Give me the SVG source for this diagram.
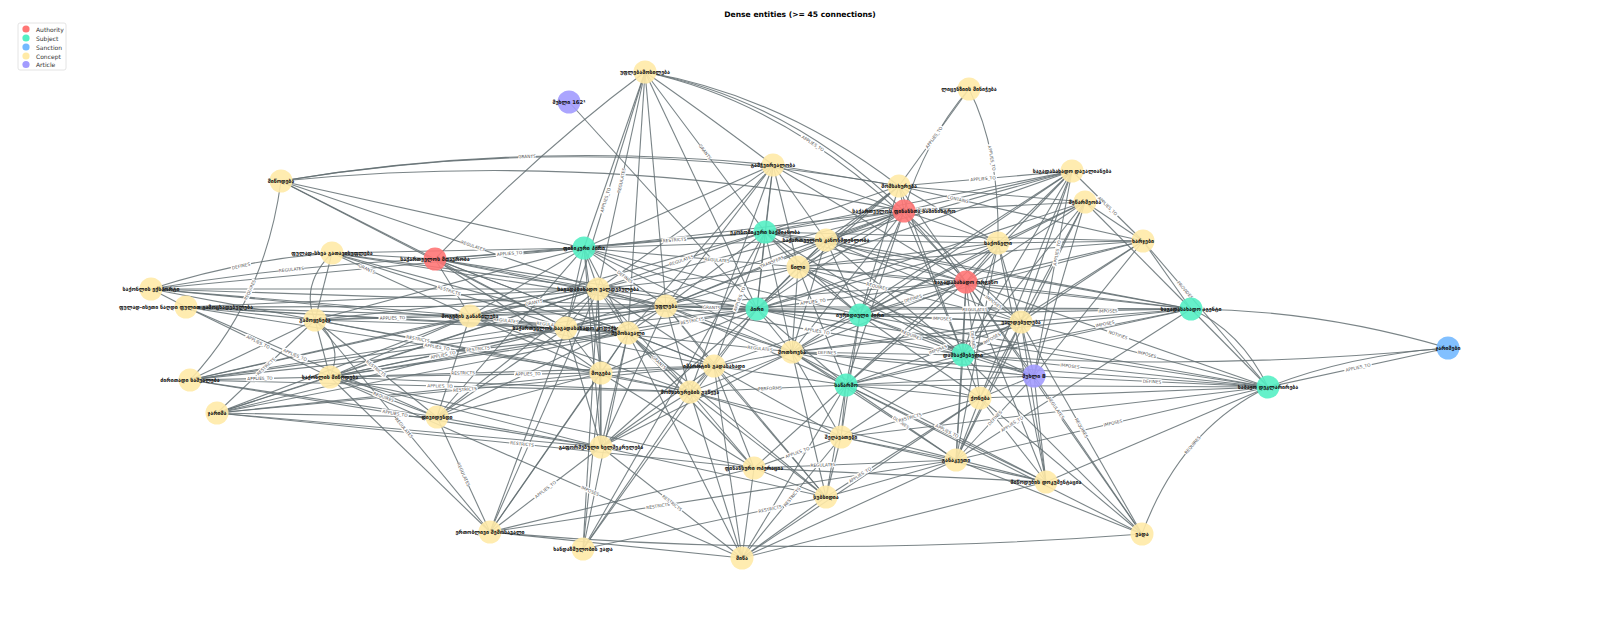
<svg xmlns="http://www.w3.org/2000/svg" width="1600" height="617" viewBox="0 0 1600 617">
<style>
#edges path{fill:none;stroke:#636e72;stroke-width:1.1;stroke-opacity:.85}
.el rect{fill:#fff;stroke:none}
.el text{font-family:"DejaVu Sans","Liberation Sans",sans-serif;font-size:4.3px;fill:#555;text-anchor:middle;dominant-baseline:central}
.nd circle{r:11.5px;fill-opacity:.9;stroke:none}
.nd text{font-family:"DejaVu Sans","Noto Sans",sans-serif;font-size:5.3px;font-weight:bold;fill:#111;text-anchor:middle;dominant-baseline:central}
.au{fill:#ff7675}.su{fill:#55efc4}.sa{fill:#74b9ff}.co{fill:#ffeaa7}.ar{fill:#a29bfe}
.lg text{font-family:"DejaVu Sans","Liberation Sans",sans-serif;font-size:6px;fill:#333;dominant-baseline:central}
</style>
<rect width="1600" height="617" fill="#fff"/>
<text x="800" y="14" font-family="DejaVu Sans, Liberation Sans, sans-serif" font-size="7.6" font-weight="bold" text-anchor="middle" dominant-baseline="central" fill="#000">Dense entities (&gt;= 45 connections)</text>
<g class="lg" id="legend">
<rect x="18" y="23" width="48" height="47" rx="2" fill="#fff" stroke="#ddd" stroke-width=".8"/>
<circle cx="26" cy="29" r="3.6" class="au"/><text x="36" y="29">Authority</text>
<circle cx="26" cy="38" r="3.6" class="su"/><text x="36" y="38">Subject</text>
<circle cx="26" cy="47" r="3.6" class="sa"/><text x="36" y="47">Sanction</text>
<circle cx="26" cy="56" r="3.6" class="co"/><text x="36" y="56">Concept</text>
<circle cx="26" cy="64.5" r="3.6" class="ar"/><text x="36" y="64.5">Article</text>
</g>
<g id="edges">
<path d="M645 72L598 289"/><path d="M645 72L566 328"/><path d="M645 72L765 232"/><path d="M645 72L628 333"/><path d="M645 72L757 309"/><path d="M645 72L584 248"/><path d="M645 72L666 306"/>
<path d="M645 72Q700 110 773 165"/><path d="M645 72Q820 110 966 282"/><path d="M645 72Q790 100 904 211"/><path d="M645 72Q780 95 899 186"/><path d="M645 72Q540 150 435 259"/>
<path d="M569 102L757 309"/>
<path d="M969 89L899 186"/><path d="M969 89Q925 140 904 211"/><path d="M969 89Q1000 150 998 243"/>
<path d="M281 181Q527 140 773 165"/><path d="M281 181Q590 130 899 186"/><path d="M281 181Q600 150 904 211"/><path d="M281 181Q265 300 190 380"/>
<path d="M281 181L584 248"/><path d="M281 181L598 289"/><path d="M281 181L435 259"/><path d="M281 181L566 328"/>
<path d="M773 165L899 186"/><path d="M773 165L904 211"/><path d="M773 165L765 232"/><path d="M773 165L598 289"/><path d="M773 165L584 248"/><path d="M773 165L666 306"/><path d="M773 165L628 333"/><path d="M773 165L757 309"/><path d="M773 165L690 392"/><path d="M773 165L966 282"/><path d="M773 165L798 267"/><path d="M773 165L826 240"/>
<path d="M899 186L904 211"/><path d="M899 186L1072 171"/><path d="M899 186L765 232"/><path d="M899 186L966 282"/><path d="M899 186L998 243"/><path d="M899 186L826 240"/><path d="M899 186L860 315"/><path d="M899 186L798 267"/><path d="M899 186L963 355"/><path d="M899 186L1143 241"/><path d="M899 186L1085 202"/><path d="M899 186L757 309"/>
<path d="M1072 171L1143 241"/><path d="M1072 171L966 282"/><path d="M1072 171L860 315"/><path d="M1072 171L826 240"/><path d="M1072 171L963 355"/><path d="M1072 171L1021 322"/><path d="M1072 171L1034 376"/><path d="M1072 171L998 243"/><path d="M1072 171L765 232"/><path d="M1072 171L798 267"/><path d="M1072 171L792 352"/><path d="M1072 171L904 211"/><path d="M1072 171L980 398"/>
<path d="M1085 202L1143 241"/><path d="M1085 202L966 282"/><path d="M1085 202L1021 322"/><path d="M1085 202L904 211"/><path d="M1085 202L963 355"/><path d="M1085 202L956 460"/><path d="M1085 202L860 315"/><path d="M1085 202L998 243"/><path d="M1085 202L757 309"/><path d="M1085 202L1034 376"/><path d="M1085 202L1191 309"/>
<path d="M904 211L584 248"/><path d="M904 211L765 232"/><path d="M904 211L826 240"/><path d="M904 211L666 306"/><path d="M904 211L757 309"/><path d="M904 211L860 315"/><path d="M904 211L798 267"/><path d="M904 211L966 282"/><path d="M904 211L598 289"/><path d="M904 211L566 328"/><path d="M904 211L792 352"/><path d="M904 211L998 243"/><path d="M904 211L1021 322"/><path d="M904 211L963 355"/><path d="M904 211L846 385"/>
<path d="M1143 241L1191 309"/><path d="M1143 241L1268 387"/><path d="M1143 241L966 282"/><path d="M1143 241L998 243"/><path d="M1143 241L1021 322"/><path d="M1143 241L798 267"/><path d="M1143 241L765 232"/><path d="M1143 241L1034 376"/><path d="M1143 241L963 355"/><path d="M1143 241L860 315"/>
<path d="M998 243L966 282"/><path d="M998 243L860 315"/><path d="M998 243L757 309"/><path d="M998 243L1021 322"/><path d="M998 243L963 355"/><path d="M998 243L956 460"/><path d="M998 243L1046 482"/><path d="M998 243L846 385"/><path d="M998 243L798 267"/><path d="M998 243L826 240"/>
<path d="M1191 309Q1320 310 1448 348"/><path d="M1191 309L1268 387"/><path d="M1191 309Q1240 330 1268 387"/>
<path d="M966 282L1191 309"/><path d="M1021 322L1191 309"/><path d="M963 355L1191 309"/><path d="M860 315L1191 309"/><path d="M757 309L1191 309"/><path d="M792 352L1191 309"/><path d="M846 385L1191 309"/><path d="M765 232L1191 309"/><path d="M826 240L1191 309"/><path d="M956 460L1191 309"/><path d="M798 267L1191 309"/><path d="M666 306L1191 309"/>
<path d="M1268 387L1448 348"/><path d="M1268 387Q1350 355 1448 348"/>
<path d="M966 282L1268 387"/><path d="M1021 322L1268 387"/><path d="M963 355L1268 387"/><path d="M1034 376L1268 387"/><path d="M846 385L1268 387"/><path d="M860 315L1268 387"/><path d="M792 352L1268 387"/><path d="M841 437L1268 387"/><path d="M980 398L1268 387"/><path d="M956 460L1268 387"/><path d="M1142 534Q1180 430 1268 387"/><path d="M757 309L1268 387"/><path d="M1046 482L1268 387"/>
<path d="M963 355Q1200 372 1448 348"/>
<path d="M966 282L1142 534"/><path d="M1021 322L1142 534"/><path d="M1034 376L1142 534"/><path d="M963 355L1142 534"/><path d="M490 532Q800 560 1142 534"/><path d="M956 460L1142 534"/><path d="M980 398L1142 534"/><path d="M846 385L1142 534"/>
<path d="M966 282L1034 376"/><path d="M1034 376L963 355"/><path d="M1034 376L1021 322"/><path d="M1034 376L956 460"/><path d="M1034 376L980 398"/><path d="M1034 376L846 385"/><path d="M1034 376L860 315"/><path d="M1034 376L792 352"/><path d="M1034 376L1046 482"/><path d="M1034 376L798 267"/>
<path d="M1021 322L1046 482"/><path d="M980 398L1046 482"/><path d="M846 385L1046 482"/><path d="M841 437L1046 482"/><path d="M742 558L1046 482"/><path d="M690 392L1046 482"/><path d="M966 282L1046 482"/><path d="M792 352L1046 482"/><path d="M754 468L1046 482"/>
<path d="M980 398L956 460"/><path d="M846 385L956 460"/><path d="M792 352L956 460"/><path d="M1021 322L956 460"/><path d="M963 355L956 460"/><path d="M966 282L956 460"/><path d="M841 437L956 460"/><path d="M826 497L956 460"/><path d="M742 558L956 460"/><path d="M754 468L956 460"/><path d="M490 532L956 460"/>
<path d="M754 468L742 558"/><path d="M826 497L742 558"/><path d="M841 437L742 558"/><path d="M690 392L742 558"/><path d="M628 333L742 558"/><path d="M601 447L742 558"/><path d="M980 398L742 558"/><path d="M714 366L742 558"/><path d="M330 377L742 558"/><path d="M846 385L742 558"/><path d="M490 532L742 558"/>
<path d="M754 468L826 497"/><path d="M690 392L826 497"/><path d="M846 385L826 497"/><path d="M714 366L826 497"/><path d="M792 352L826 497"/><path d="M841 437L826 497"/><path d="M666 306L826 497"/><path d="M628 333L826 497"/><path d="M980 398L826 497"/><path d="M583 549L826 497"/><path d="M601 447L826 497"/>
<path d="M601 373L583 549"/><path d="M714 366L583 549"/><path d="M690 392L583 549"/><path d="M628 333L583 549"/><path d="M598 289L583 549"/><path d="M765 232L583 549"/>
<path d="M437 417L490 532"/><path d="M330 377L490 532"/><path d="M315 320L490 532"/><path d="M598 289L490 532"/><path d="M601 447L490 532"/><path d="M628 333L490 532"/><path d="M566 328L490 532"/><path d="M601 373L490 532"/><path d="M754 468L490 532"/>
<path d="M566 328L601 447"/><path d="M628 333L601 447"/><path d="M601 373L601 447"/><path d="M437 417L601 447"/><path d="M598 289L601 447"/><path d="M666 306L601 447"/><path d="M217 413L601 447"/><path d="M330 377L601 447"/><path d="M757 309L601 447"/><path d="M690 392L601 447"/><path d="M714 366L601 447"/><path d="M792 352L601 447"/><path d="M584 248L601 447"/><path d="M190 380L601 447"/>
<path d="M330 377L437 417"/><path d="M566 328L437 417"/><path d="M470 316L437 417"/><path d="M598 289L437 417"/><path d="M601 373L437 417"/><path d="M584 248L437 417"/><path d="M666 306L437 417"/><path d="M217 413L437 417"/><path d="M190 380L437 417"/><path d="M315 320L437 417"/>
<path d="M217 413L315 320"/><path d="M217 413L330 377"/><path d="M217 413L598 289"/><path d="M217 413L566 328"/><path d="M217 413L470 316"/><path d="M217 413L601 373"/><path d="M217 413L628 333"/><path d="M217 413L754 468"/><path d="M217 413L714 366"/>
<path d="M190 380L315 320"/><path d="M190 380L470 316"/><path d="M190 380L566 328"/><path d="M190 380L598 289"/><path d="M190 380L330 377"/><path d="M190 380L666 306"/><path d="M190 380L690 392"/><path d="M190 380L628 333"/>
<path d="M330 377L315 320"/><path d="M330 377Q345 345 315 320"/><path d="M330 377L470 316"/><path d="M330 377L566 328"/><path d="M330 377L598 289"/><path d="M330 377L628 333"/><path d="M330 377L666 306"/><path d="M330 377L601 373"/><path d="M330 377L714 366"/><path d="M330 377L754 468"/><path d="M330 377L690 392"/><path d="M330 377L757 309"/>
<path d="M315 320L332 253"/><path d="M315 320Q300 285 332 253"/><path d="M315 320L470 316"/><path d="M315 320L566 328"/><path d="M315 320L598 289"/><path d="M315 320L584 248"/><path d="M315 320L666 306"/><path d="M315 320L186 307"/><path d="M315 320L601 373"/><path d="M315 320L690 392"/>
<path d="M186 307L330 377"/><path d="M186 307L470 316"/><path d="M186 307L566 328"/><path d="M186 307L598 289"/><path d="M186 307L666 306"/><path d="M186 307L628 333"/><path d="M186 307L437 417"/><path d="M186 307L601 373"/>
<path d="M151 289Q240 260 332 253"/><path d="M151 289Q290 265 435 259"/><path d="M151 289L598 289"/><path d="M151 289L566 328"/><path d="M151 289L666 306"/><path d="M151 289L470 316"/><path d="M151 289L584 248"/><path d="M151 289L315 320"/><path d="M151 289L186 307"/>
<path d="M332 253L435 259"/><path d="M332 253L584 248"/><path d="M332 253L598 289"/><path d="M332 253L470 316"/><path d="M332 253L566 328"/><path d="M332 253L666 306"/><path d="M332 253L628 333"/>
<path d="M435 259L584 248"/><path d="M435 259L598 289"/><path d="M435 259L566 328"/><path d="M435 259L470 316"/><path d="M435 259L601 373"/><path d="M435 259L666 306"/><path d="M435 259L628 333"/><path d="M435 259L765 232"/><path d="M435 259L757 309"/><path d="M435 259L714 366"/>
<path d="M470 316L566 328"/><path d="M470 316L598 289"/><path d="M470 316L584 248"/><path d="M470 316L666 306"/><path d="M470 316L628 333"/><path d="M470 316L601 373"/><path d="M470 316L757 309"/><path d="M470 316L690 392"/><path d="M470 316L714 366"/><path d="M470 316L765 232"/>
<path d="M584 248L598 289"/><path d="M584 248L666 306"/><path d="M584 248L566 328"/><path d="M584 248L628 333"/><path d="M584 248L765 232"/><path d="M584 248L757 309"/><path d="M584 248L798 267"/><path d="M584 248L792 352"/><path d="M584 248L601 373"/><path d="M584 248L826 240"/><path d="M584 248L860 315"/>
<path d="M598 289L666 306"/><path d="M598 289L566 328"/><path d="M598 289L628 333"/><path d="M598 289L757 309"/><path d="M598 289L765 232"/><path d="M598 289L792 352"/><path d="M598 289L798 267"/><path d="M598 289L601 373"/><path d="M598 289L714 366"/><path d="M598 289L690 392"/>
<path d="M666 306L757 309"/><path d="M666 306L765 232"/><path d="M666 306L628 333"/><path d="M666 306L566 328"/><path d="M666 306L792 352"/><path d="M666 306L798 267"/><path d="M666 306L714 366"/><path d="M666 306L690 392"/><path d="M666 306L860 315"/><path d="M666 306L846 385"/><path d="M666 306L826 240"/><path d="M666 306L966 282"/><path d="M666 306L1021 322"/><path d="M666 306L963 355"/>
<path d="M757 309L765 232"/><path d="M757 309L798 267"/><path d="M757 309L860 315"/><path d="M757 309L792 352"/><path d="M757 309L714 366"/><path d="M757 309L690 392"/><path d="M757 309L628 333"/><path d="M757 309L566 328"/><path d="M757 309L601 373"/><path d="M757 309L846 385"/><path d="M757 309L826 240"/><path d="M757 309L966 282"/><path d="M757 309L963 355"/>
<path d="M765 232L826 240"/><path d="M765 232L798 267"/><path d="M765 232L860 315"/><path d="M765 232L966 282"/><path d="M765 232L792 352"/><path d="M765 232L714 366"/><path d="M765 232L963 355"/>
<path d="M826 240L798 267"/><path d="M826 240L860 315"/><path d="M826 240L966 282"/><path d="M826 240L963 355"/><path d="M826 240L1021 322"/><path d="M826 240L792 352"/>
<path d="M798 267L860 315"/><path d="M798 267L966 282"/><path d="M798 267L792 352"/><path d="M798 267L1021 322"/><path d="M798 267L963 355"/><path d="M798 267L846 385"/>
<path d="M966 282L860 315"/><path d="M966 282L1021 322"/><path d="M966 282L963 355"/><path d="M966 282L792 352"/><path d="M966 282L846 385"/><path d="M966 282L980 398"/>
<path d="M860 315L792 352"/><path d="M860 315L963 355"/><path d="M860 315L846 385"/><path d="M860 315L1021 322"/><path d="M860 315L980 398"/><path d="M860 315L841 437"/><path d="M860 315L714 366"/>
<path d="M1021 322L963 355"/><path d="M1021 322L846 385"/><path d="M1021 322L980 398"/><path d="M1021 322L792 352"/>
<path d="M792 352L846 385"/><path d="M792 352L714 366"/><path d="M792 352L690 392"/><path d="M792 352L841 437"/><path d="M792 352L963 355"/><path d="M792 352L980 398"/><path d="M566 328L792 352"/>
<path d="M963 355L846 385"/><path d="M963 355L980 398"/><path d="M963 355L841 437"/>
<path d="M714 366L690 392"/><path d="M714 366L846 385"/><path d="M714 366L841 437"/><path d="M714 366L754 468"/><path d="M714 366L628 333"/><path d="M714 366L601 373"/>
<path d="M628 333L601 373"/><path d="M628 333L690 392"/><path d="M628 333L566 328"/><path d="M628 333L754 468"/>
<path d="M566 328L601 373"/>
<path d="M601 373L690 392"/><path d="M601 373L754 468"/>
<path d="M690 392L754 468"/><path d="M690 392L841 437"/><path d="M690 392L846 385"/>
<path d="M846 385L841 437"/><path d="M846 385L980 398"/><path d="M846 385L754 468"/>
<path d="M841 437L980 398"/><path d="M841 437L754 468"/>
</g>
<g id="edge-labels" class="el">
<g transform="translate(621.5 180.5) rotate(-77.8)"><rect x="-12.75" y="-2.8" width="25.5" height="5.6" rx="1.6"/><text>REGULATES</text></g>
<g transform="translate(605.5 200) rotate(-72.9)"><rect x="-14" y="-2.8" width="28" height="5.6" rx="1.6"/><text>APPLIES_TO</text></g>
<g transform="translate(705 152) rotate(53.1)"><rect x="-9" y="-2.8" width="18" height="5.6" rx="1.6"/><text>GRANTS</text></g>
<g transform="translate(812.7 143.5) rotate(33)"><rect x="-14" y="-2.8" width="28" height="5.6" rx="1.6"/><text>APPLIES_TO</text></g>
<g transform="translate(527 156.5) rotate(-1.9)"><rect x="-9" y="-2.8" width="18" height="5.6" rx="1.6"/><text>GRANTS</text></g>
<g transform="translate(473 246) rotate(18.8)"><rect x="-12.75" y="-2.8" width="25.5" height="5.6" rx="1.6"/><text>REGULATES</text></g>
<g transform="translate(367 269) rotate(24.5)"><rect x="-9" y="-2.8" width="18" height="5.6" rx="1.6"/><text>GRANTS</text></g>
<g transform="translate(241 266) rotate(-12)"><rect x="-10.25" y="-2.8" width="20.5" height="5.6" rx="1.6"/><text>DEFINES</text></g>
<g transform="translate(291.5 269.5) rotate(-6)"><rect x="-12.75" y="-2.8" width="25.5" height="5.6" rx="1.6"/><text>REGULATES</text></g>
<g transform="translate(250 290) rotate(-65.4)"><rect x="-11.5" y="-2.8" width="23" height="5.6" rx="1.6"/><text>REQUIRES</text></g>
<g transform="translate(449 290.5) rotate(17.8)"><rect x="-12.75" y="-2.8" width="25.5" height="5.6" rx="1.6"/><text>RESTRICTS</text></g>
<g transform="translate(392.5 318) rotate(-1.5)"><rect x="-14" y="-2.8" width="28" height="5.6" rx="1.6"/><text>APPLIES_TO</text></g>
<g transform="translate(258 342) rotate(25.9)"><rect x="-14" y="-2.8" width="28" height="5.6" rx="1.6"/><text>APPLIES_TO</text></g>
<g transform="translate(295 355) rotate(23.7)"><rect x="-14" y="-2.8" width="28" height="5.6" rx="1.6"/><text>APPLIES_TO</text></g>
<g transform="translate(266 366.5) rotate(-43.5)"><rect x="-12.75" y="-2.8" width="25.5" height="5.6" rx="1.6"/><text>RESTRICTS</text></g>
<g transform="translate(260 378.5) rotate(-1.2)"><rect x="-14" y="-2.8" width="28" height="5.6" rx="1.6"/><text>APPLIES_TO</text></g>
<g transform="translate(376 368.5) rotate(38.5)"><rect x="-12.75" y="-2.8" width="25.5" height="5.6" rx="1.6"/><text>RESTRICTS</text></g>
<g transform="translate(463 373) rotate(-1.6)"><rect x="-12.75" y="-2.8" width="25.5" height="5.6" rx="1.6"/><text>RESTRICTS</text></g>
<g transform="translate(440 386) rotate(1.4)"><rect x="-14" y="-2.8" width="28" height="5.6" rx="1.6"/><text>APPLIES_TO</text></g>
<g transform="translate(383.5 397) rotate(20.5)"><rect x="-11.5" y="-2.8" width="23" height="5.6" rx="1.6"/><text>REQUIRES</text></g>
<g transform="translate(395 413.4) rotate(9.3)"><rect x="-14" y="-2.8" width="28" height="5.6" rx="1.6"/><text>APPLIES_TO</text></g>
<g transform="translate(404 428) rotate(50.5)"><rect x="-12.75" y="-2.8" width="25.5" height="5.6" rx="1.6"/><text>REGULATES</text></g>
<g transform="translate(463.5 474.5) rotate(65.3)"><rect x="-12.75" y="-2.8" width="25.5" height="5.6" rx="1.6"/><text>REGULATES</text></g>
<g transform="translate(522 444) rotate(5.8)"><rect x="-12.75" y="-2.8" width="25.5" height="5.6" rx="1.6"/><text>RESTRICTS</text></g>
<g transform="translate(545.5 489.5) rotate(-37.4)"><rect x="-14" y="-2.8" width="28" height="5.6" rx="1.6"/><text>APPLIES_TO</text></g>
<g transform="translate(590 491) rotate(23.7)"><rect x="-10.25" y="-2.8" width="20.5" height="5.6" rx="1.6"/><text>IMPOSES</text></g>
<g transform="translate(672 503) rotate(38)"><rect x="-12.75" y="-2.8" width="25.5" height="5.6" rx="1.6"/><text>RESTRICTS</text></g>
<g transform="translate(658 506) rotate(-8.8)"><rect x="-12.75" y="-2.8" width="25.5" height="5.6" rx="1.6"/><text>RESTRICTS</text></g>
<g transform="translate(792 497) rotate(-50.7)"><rect x="-12.75" y="-2.8" width="25.5" height="5.6" rx="1.6"/><text>RESTRICTS</text></g>
<g transform="translate(770 509) rotate(-12)"><rect x="-12.75" y="-2.8" width="25.5" height="5.6" rx="1.6"/><text>RESTRICTS</text></g>
<g transform="translate(797.5 452.5) rotate(-19.6)"><rect x="-14" y="-2.8" width="28" height="5.6" rx="1.6"/><text>APPLIES_TO</text></g>
<g transform="translate(823 465) rotate(-2.3)"><rect x="-12.75" y="-2.8" width="25.5" height="5.6" rx="1.6"/><text>REGULATES</text></g>
<g transform="translate(860 475) rotate(-32.7)"><rect x="-14" y="-2.8" width="28" height="5.6" rx="1.6"/><text>APPLIES_TO</text></g>
<g transform="translate(1012 424) rotate(-32.7)"><rect x="-14" y="-2.8" width="28" height="5.6" rx="1.6"/><text>APPLIES_TO</text></g>
<g transform="translate(995 418) rotate(-47)"><rect x="-10.25" y="-2.8" width="20.5" height="5.6" rx="1.6"/><text>DEFINES</text></g>
<g transform="translate(947 431) rotate(27)"><rect x="-14" y="-2.8" width="28" height="5.6" rx="1.6"/><text>APPLIES_TO</text></g>
<g transform="translate(901 422.5) rotate(34.3)"><rect x="-10.25" y="-2.8" width="20.5" height="5.6" rx="1.6"/><text>DEFINES</text></g>
<g transform="translate(1056 408) rotate(55.6)"><rect x="-12.75" y="-2.8" width="25.5" height="5.6" rx="1.6"/><text>REGULATES</text></g>
<g transform="translate(1081.5 428) rotate(60.3)"><rect x="-11.5" y="-2.8" width="23" height="5.6" rx="1.6"/><text>REQUIRES</text></g>
<g transform="translate(1113 423) rotate(-13.2)"><rect x="-10.25" y="-2.8" width="20.5" height="5.6" rx="1.6"/><text>IMPOSES</text></g>
<g transform="translate(1152 381.6) rotate(2.7)"><rect x="-10.25" y="-2.8" width="20.5" height="5.6" rx="1.6"/><text>DEFINES</text></g>
<g transform="translate(1147 354.4) rotate(14.7)"><rect x="-10.25" y="-2.8" width="20.5" height="5.6" rx="1.6"/><text>IMPOSES</text></g>
<g transform="translate(1118 335) rotate(19.2)"><rect x="-11.5" y="-2.8" width="23" height="5.6" rx="1.6"/><text>NOTIFIES</text></g>
<g transform="translate(1108 311) rotate(-1.4)"><rect x="-10.25" y="-2.8" width="20.5" height="5.6" rx="1.6"/><text>IMPOSES</text></g>
<g transform="translate(1105 324) rotate(-11.4)"><rect x="-10.25" y="-2.8" width="20.5" height="5.6" rx="1.6"/><text>IMPOSES</text></g>
<g transform="translate(1358 367.5) rotate(-12.2)"><rect x="-14" y="-2.8" width="28" height="5.6" rx="1.6"/><text>APPLIES_TO</text></g>
<g transform="translate(1192.5 445) rotate(-49.4)"><rect x="-11.5" y="-2.8" width="23" height="5.6" rx="1.6"/><text>REQUIRES</text></g>
<g transform="translate(1185 290) rotate(49.4)"><rect x="-11.5" y="-2.8" width="23" height="5.6" rx="1.6"/><text>PROVIDES</text></g>
<g transform="translate(1107.5 206) rotate(44.6)"><rect x="-14" y="-2.8" width="28" height="5.6" rx="1.6"/><text>APPLIES_TO</text></g>
<g transform="translate(958 199.3) rotate(12.7)"><rect x="-11.5" y="-2.8" width="23" height="5.6" rx="1.6"/><text>CONTAINS</text></g>
<g transform="translate(925 210) rotate(-2.8)"><rect x="-14" y="-2.8" width="28" height="5.6" rx="1.6"/><text>APPLIES_TO</text></g>
<g transform="translate(983 178.7) rotate(-5)"><rect x="-14" y="-2.8" width="28" height="5.6" rx="1.6"/><text>APPLIES_TO</text></g>
<g transform="translate(991.7 158) rotate(79.3)"><rect x="-14" y="-2.8" width="28" height="5.6" rx="1.6"/><text>APPLIES_TO</text></g>
<g transform="translate(934 137.5) rotate(-54.2)"><rect x="-14" y="-2.8" width="28" height="5.6" rx="1.6"/><text>APPLIES_TO</text></g>
<g transform="translate(1057 253) rotate(-79.5)"><rect x="-14" y="-2.8" width="28" height="5.6" rx="1.6"/><text>APPLIES_TO</text></g>
<g transform="translate(975 309) rotate(0)"><rect x="-12.75" y="-2.8" width="25.5" height="5.6" rx="1.6"/><text>REGULATES</text></g>
<g transform="translate(942 318.6) rotate(2.5)"><rect x="-10.25" y="-2.8" width="20.5" height="5.6" rx="1.6"/><text>IMPOSES</text></g>
<g transform="translate(973 340) rotate(83)"><rect x="-10.25" y="-2.8" width="20.5" height="5.6" rx="1.6"/><text>DEFINES</text></g>
<g transform="translate(993.5 302) rotate(36)"><rect x="-10.25" y="-2.8" width="20.5" height="5.6" rx="1.6"/><text>IMPOSES</text></g>
<g transform="translate(992 338.5) rotate(-29.6)"><rect x="-10.25" y="-2.8" width="20.5" height="5.6" rx="1.6"/><text>IMPOSES</text></g>
<g transform="translate(938 349.6) rotate(-21.6)"><rect x="-10.25" y="-2.8" width="20.5" height="5.6" rx="1.6"/><text>IMPOSES</text></g>
<g transform="translate(911.5 335) rotate(21.2)"><rect x="-11.5" y="-2.8" width="23" height="5.6" rx="1.6"/><text>REQUIRES</text></g>
<g transform="translate(913 298.5) rotate(-17.3)"><rect x="-10.25" y="-2.8" width="20.5" height="5.6" rx="1.6"/><text>DEFINES</text></g>
<g transform="translate(1070 366) rotate(6)"><rect x="-10.25" y="-2.8" width="20.5" height="5.6" rx="1.6"/><text>IMPOSES</text></g>
<g transform="translate(910 417.6) rotate(-15.7)"><rect x="-12.75" y="-2.8" width="25.5" height="5.6" rx="1.6"/><text>RESTRICTS</text></g>
<g transform="translate(772 262) rotate(-22.4)"><rect x="-12.75" y="-2.8" width="25.5" height="5.6" rx="1.6"/><text>TRANSFERS</text></g>
<g transform="translate(711.5 307.5) rotate(1.9)"><rect x="-9" y="-2.8" width="18" height="5.6" rx="1.6"/><text>GRANTS</text></g>
<g transform="translate(717 260) rotate(5)"><rect x="-12.75" y="-2.8" width="25.5" height="5.6" rx="1.6"/><text>REGULATES</text></g>
<g transform="translate(692 321) rotate(-10.5)"><rect x="-12.75" y="-2.8" width="25.5" height="5.6" rx="1.6"/><text>RESTRICTS</text></g>
<g transform="translate(760 348.6) rotate(6)"><rect x="-12.75" y="-2.8" width="25.5" height="5.6" rx="1.6"/><text>REGULATES</text></g>
<g transform="translate(813 301.8) rotate(-7.4)"><rect x="-14" y="-2.8" width="28" height="5.6" rx="1.6"/><text>APPLIES_TO</text></g>
<g transform="translate(877 286.5) rotate(13.9)"><rect x="-11.5" y="-2.8" width="23" height="5.6" rx="1.6"/><text>REQUIRES</text></g>
<g transform="translate(827 352.6) rotate(1)"><rect x="-10.25" y="-2.8" width="20.5" height="5.6" rx="1.6"/><text>DEFINES</text></g>
<g transform="translate(770 388.4) rotate(-2.6)"><rect x="-11.5" y="-2.8" width="23" height="5.6" rx="1.6"/><text>PERFORMS</text></g>
<g transform="translate(817 331) rotate(9.4)"><rect x="-14" y="-2.8" width="28" height="5.6" rx="1.6"/><text>APPLIES_TO</text></g>
<g transform="translate(739.5 299) rotate(-69)"><rect x="-14" y="-2.8" width="28" height="5.6" rx="1.6"/><text>APPLIES_TO</text></g>
<g transform="translate(681.5 260.5) rotate(-18.8)"><rect x="-12.75" y="-2.8" width="25.5" height="5.6" rx="1.6"/><text>REGULATES</text></g>
<g transform="translate(674.5 240) rotate(-5)"><rect x="-12.75" y="-2.8" width="25.5" height="5.6" rx="1.6"/><text>RESTRICTS</text></g>
<g transform="translate(625 277) rotate(36.5)"><rect x="-10.25" y="-2.8" width="20.5" height="5.6" rx="1.6"/><text>DEFINES</text></g>
<g transform="translate(509.5 253.5) rotate(-4.2)"><rect x="-14" y="-2.8" width="28" height="5.6" rx="1.6"/><text>APPLIES_TO</text></g>
<g transform="translate(534 302.5) rotate(-11.9)"><rect x="-9" y="-2.8" width="18" height="5.6" rx="1.6"/><text>GRANTS</text></g>
<g transform="translate(549 324.5) rotate(6.1)"><rect x="-12.75" y="-2.8" width="25.5" height="5.6" rx="1.6"/><text>REGULATES</text></g>
<g transform="translate(659 362.5) rotate(43.6)"><rect x="-9" y="-2.8" width="18" height="5.6" rx="1.6"/><text>GRANTS</text></g>
<g transform="translate(506 320.5) rotate(7.1)"><rect x="-12.75" y="-2.8" width="25.5" height="5.6" rx="1.6"/><text>REGULATES</text></g>
<g transform="translate(418 339) rotate(10.5)"><rect x="-12.75" y="-2.8" width="25.5" height="5.6" rx="1.6"/><text>RESTRICTS</text></g>
<g transform="translate(437 347) rotate(9)"><rect x="-14" y="-2.8" width="28" height="5.6" rx="1.6"/><text>APPLIES_TO</text></g>
<g transform="translate(443 355) rotate(-11.7)"><rect x="-14" y="-2.8" width="28" height="5.6" rx="1.6"/><text>APPLIES_TO</text></g>
<g transform="translate(478 349) rotate(-6.1)"><rect x="-12.75" y="-2.8" width="25.5" height="5.6" rx="1.6"/><text>RESTRICTS</text></g>
<g transform="translate(465 389.5) rotate(-5.4)"><rect x="-12.75" y="-2.8" width="25.5" height="5.6" rx="1.6"/><text>RESTRICTS</text></g>
<g transform="translate(528 374) rotate(-0.8)"><rect x="-14" y="-2.8" width="28" height="5.6" rx="1.6"/><text>APPLIES_TO</text></g>
</g>
<g id="nodes">
<g id="n1" class="nd"><circle cx="645" cy="72" class="co"/><text x="645" y="72">უფლებამოსილება</text></g>
<g id="n2" class="nd"><circle cx="569" cy="102" class="ar"/><text x="569" y="102">მუხლი 162¹</text></g>
<g id="n3" class="nd"><circle cx="969" cy="89" class="co"/><text x="969" y="89">ლიცენზიის მინიჭება</text></g>
<g id="n4" class="nd"><circle cx="281" cy="181" class="co"/><text x="281" y="181">მიწოდება</text></g>
<g id="n5" class="nd"><circle cx="773" cy="165" class="co"/><text x="773" y="165">გამჭვირვალობა</text></g>
<g id="n6" class="nd"><circle cx="899" cy="186" class="co"/><text x="899" y="186">მომსახურება</text></g>
<g id="n7" class="nd"><circle cx="1072" cy="171" class="co"/><text x="1072" y="171">საგადასახადო დავალიანება</text></g>
<g id="n8" class="nd"><circle cx="1085" cy="202" class="co"/><text x="1085" y="202">მეწარმეობა</text></g>
<g id="n9" class="nd"><circle cx="904" cy="211" class="au"/><text x="904" y="211">საქართველოს ფინანსთა სამინისტრო</text></g>
<g id="n10" class="nd"><circle cx="765" cy="232" class="su"/><text x="765" y="232">ეკონომიკური საქმიანობა</text></g>
<g id="n11" class="nd"><circle cx="826" cy="240" class="co"/><text x="826" y="240">საქართველოს კანონმდებლობა</text></g>
<g id="n12" class="nd"><circle cx="584" cy="248" class="su"/><text x="584" y="248">ფიზიკური პირი</text></g>
<g id="n13" class="nd"><circle cx="1143" cy="241" class="co"/><text x="1143" y="241">ხარჯები</text></g>
<g id="n14" class="nd"><circle cx="998" cy="243" class="co"/><text x="998" y="243">საქონელი</text></g>
<g id="n15" class="nd"><circle cx="435" cy="259" class="au"/><text x="435" y="259">საქართველოს მთავრობა</text></g>
<g id="n16" class="nd"><circle cx="332" cy="253" class="co"/><text x="332" y="253">ფულად-სხვა გათავისუფლება</text></g>
<g id="n17" class="nd"><circle cx="798" cy="267" class="co"/><text x="798" y="267">წილი</text></g>
<g id="n18" class="nd"><circle cx="151" cy="289" class="co"/><text x="151" y="289">საქონლის ექსპორტი</text></g>
<g id="n19" class="nd"><circle cx="966" cy="282" class="au"/><text x="966" y="282">საგადასახადო ორგანო</text></g>
<g id="n20" class="nd"><circle cx="598" cy="289" class="co"/><text x="598" y="289">საგადასახადო ვალდებულება</text></g>
<g id="n21" class="nd"><circle cx="186" cy="307" class="co"/><text x="186" y="307">ფულად-ისეთი ნაღდი ფულით გამოცხადებულება</text></g>
<g id="n22" class="nd"><circle cx="666" cy="306" class="co"/><text x="666" y="306">უფლება</text></g>
<g id="n23" class="nd"><circle cx="757" cy="309" class="su"/><text x="757" y="309">პირი</text></g>
<g id="n24" class="nd"><circle cx="1191" cy="309" class="su"/><text x="1191" y="309">საგადასახადო აგენტი</text></g>
<g id="n25" class="nd"><circle cx="860" cy="315" class="su"/><text x="860" y="315">იურიდიული პირი</text></g>
<g id="n26" class="nd"><circle cx="470" cy="316" class="co"/><text x="470" y="316">მოგების განაწილება</text></g>
<g id="n27" class="nd"><circle cx="315" cy="320" class="co"/><text x="315" y="320">გამოყენება</text></g>
<g id="n28" class="nd"><circle cx="1021" cy="322" class="co"/><text x="1021" y="322">ვალდებულება</text></g>
<g id="n29" class="nd"><circle cx="566" cy="328" class="co"/><text x="566" y="328">საქართველოს საგადასახადო კოდექსი</text></g>
<g id="n30" class="nd"><circle cx="628" cy="333" class="co"/><text x="628" y="333">შემოსავალი</text></g>
<g id="n31" class="nd"><circle cx="1448" cy="348" class="sa"/><text x="1448" y="348">ჯარიმები</text></g>
<g id="n32" class="nd"><circle cx="792" cy="352" class="co"/><text x="792" y="352">მოთხოვნა</text></g>
<g id="n33" class="nd"><circle cx="963" cy="355" class="su"/><text x="963" y="355">დამსაქმებელი</text></g>
<g id="n34" class="nd"><circle cx="714" cy="366" class="co"/><text x="714" y="366">იმპორტის გადასახადი</text></g>
<g id="n35" class="nd"><circle cx="1034" cy="376" class="ar"/><text x="1034" y="376">მუხლი 8</text></g>
<g id="n36" class="nd"><circle cx="601" cy="373" class="co"/><text x="601" y="373">მოგება</text></g>
<g id="n37" class="nd"><circle cx="190" cy="380" class="co"/><text x="190" y="380">ძირითადი საშუალება</text></g>
<g id="n38" class="nd"><circle cx="330" cy="377" class="co"/><text x="330" y="377">საქონლის მიწოდება</text></g>
<g id="n39" class="nd"><circle cx="846" cy="385" class="su"/><text x="846" y="385">საწარმო</text></g>
<g id="n40" class="nd"><circle cx="1268" cy="387" class="su"/><text x="1268" y="387">საბაჟო დეკლარირება</text></g>
<g id="n41" class="nd"><circle cx="690" cy="392" class="co"/><text x="690" y="392">მომსახურების გაწევა</text></g>
<g id="n42" class="nd"><circle cx="980" cy="398" class="co"/><text x="980" y="398">ქონება</text></g>
<g id="n43" class="nd"><circle cx="217" cy="413" class="co"/><text x="217" y="413">ჯარიმა</text></g>
<g id="n44" class="nd"><circle cx="437" cy="417" class="co"/><text x="437" y="417">დივიდენდი</text></g>
<g id="n45" class="nd"><circle cx="841" cy="437" class="co"/><text x="841" y="437">შეღავათები</text></g>
<g id="n46" class="nd"><circle cx="601" cy="447" class="co"/><text x="601" y="447">გაფორმებული ხელშეკრულება</text></g>
<g id="n47" class="nd"><circle cx="956" cy="460" class="co"/><text x="956" y="460">განაკვეთი</text></g>
<g id="n48" class="nd"><circle cx="754" cy="468" class="co"/><text x="754" y="468">ფინანსური ოპერაცია</text></g>
<g id="n49" class="nd"><circle cx="1046" cy="482" class="co"/><text x="1046" y="482">მიწოდების დოკუმენტაცია</text></g>
<g id="n50" class="nd"><circle cx="826" cy="497" class="co"/><text x="826" y="497">სუბსიდია</text></g>
<g id="n51" class="nd"><circle cx="490" cy="532" class="co"/><text x="490" y="532">ერთობლივი შემოსავალი</text></g>
<g id="n52" class="nd"><circle cx="583" cy="549" class="co"/><text x="583" y="549">ხანდაზმულობის ვადა</text></g>
<g id="n53" class="nd"><circle cx="742" cy="558" class="co"/><text x="742" y="558">მიწა</text></g>
<g id="n54" class="nd"><circle cx="1142" cy="534" class="co"/><text x="1142" y="534">ვადა</text></g>
</g>
</svg>
